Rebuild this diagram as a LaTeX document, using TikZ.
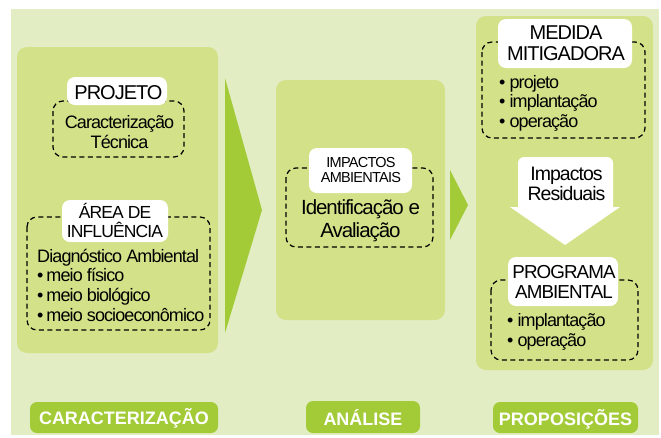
\documentclass[tikz,border=0pt]{standalone}
\usepackage{fontspec}
\setmainfont{Liberation Sans}[LetterSpace=-5]
\newfontfamily\plainsans{Liberation Sans}
\definecolor{bgc}{HTML}{E3EDC4}
\definecolor{panelc}{HTML}{D3E188}
\definecolor{darkc}{HTML}{A3CB38}
\newcommand\fbody{\fontsize{18}{20}\selectfont}
\begin{document}
\begin{tikzpicture}[x=1pt,y=-1pt,
  panel/.style={fill=panelc, rounded corners=10pt},
  dbox/.style={draw=black, dash pattern=on 5pt off 3.5pt, line width=1.2pt, rounded corners=10pt},
  wlabel/.style={fill=white, rounded corners=8pt},
  glabel/.style={fill=darkc, rounded corners=7pt},
  gtext/.style={inner sep=0pt, anchor=base, text=white, font=\plainsans\fontsize{18}{20}\selectfont\bfseries},
  txt/.style={inner sep=0pt, anchor=base, font=\fbody},
  ltxt/.style={inner sep=0pt, anchor=base west, font=\fbody}]
\useasboundingbox (0,0) rectangle (661,437);
\fill[bgc] (11,9) rectangle (659,435);
% panels
\path[panel] (17,47) rectangle (218,353);
\path[panel] (276,80) rectangle (445,320);
\path[panel] (476,16) rectangle (653,370);
% big arrows
\fill[darkc] (225,78) -- (262,210) -- (225,333) -- cycle;
\fill[darkc] (450,170) -- (468,205) -- (450,240) -- cycle;
% --- left column
\draw[dbox] (53,101) rectangle (184,157);
\path[wlabel] (67,77) rectangle (167,105);
\node[txt, font=\fontsize{20}{20}\selectfont] (proj) at (118.5,99) {PROJETO};
\node[txt] (car1) at (119.5,128) {Caracterização};
\node[txt] (car2) at (119.5,148) {Técnica};
\draw[dbox] (27,217) rectangle (210,330);
\path[wlabel] (62,200) rectangle (168,242);
\node[txt, font=\fontsize{17.5}{20}\selectfont] (area1) at (115,218) {ÁREA DE};
\node[txt, font=\fontsize{17.5}{20}\selectfont] (area2) at (115,237) {INFLUÊNCIA};
\node[ltxt] (diag) at (37,262) {Diagnóstico Ambiental};
\node[ltxt] (mf) at (37,281) {\textbullet\,meio físico};
\node[ltxt] (mb) at (37,301) {\textbullet\,meio biológico};
\node[ltxt] (ms) at (37,321) {\textbullet\,meio socioeconômico};
% --- middle column
\draw[dbox] (286,168) rectangle (433,247);
\path[wlabel] (309,148) rectangle (412,193);
\node[txt, font=\fontsize{14.5}{15}\selectfont] (imp1) at (361,167) {IMPACTOS};
\node[txt, font=\fontsize{14.5}{15}\selectfont] (imp2) at (361,182) {AMBIENTAIS};
\node[txt, font=\fontsize{20.5}{22}\selectfont] (id1) at (360.5,214) {Identificação e};
\node[txt, font=\fontsize{20.5}{22}\selectfont] (id2) at (360.5,237) {Avaliação};
% --- right column
\draw[dbox] (482,42) rectangle (645,138);
\path[wlabel] (498,19) rectangle (632,68);
\node[txt, font=\fontsize{20}{20}\selectfont] (med1) at (566,39) {MEDIDA};
\node[txt, font=\fontsize{20}{20}\selectfont] (med2) at (566,60) {MITIGADORA};
\node[ltxt, font=\fontsize{18}{20}\selectfont] (b1) at (499,88) {\textbullet\ projeto};
\node[ltxt, font=\fontsize{18}{20}\selectfont] (b2) at (499,107) {\textbullet\ implantação};
\node[ltxt, font=\fontsize{18}{20}\selectfont] (b3) at (499,127) {\textbullet\ operação};
\fill[white] (565,245) -- (510,207) -- (518,207) -- (518,200) [rounded corners=6pt] -- (518,157) -- (613,157) -- (613,200) [sharp corners] -- (613,207) -- (620,207) -- cycle;
\node[txt, font=\fontsize{19.5}{20}\selectfont] (res1) at (566.5,180) {Impactos};
\node[txt, font=\fontsize{19.5}{20}\selectfont] (res2) at (566.5,200) {Residuais};
\draw[dbox] (491,280) rectangle (638,360);
\path[wlabel] (508,257) rectangle (618,306);
\node[txt, font=\fontsize{18.8}{20}\selectfont] (prog1) at (564,278) {PROGRAMA};
\node[txt, font=\fontsize{18.8}{20}\selectfont] (prog2) at (564,298) {AMBIENTAL};
\node[ltxt, font=\fontsize{18}{20}\selectfont] (p1) at (507,326) {\textbullet\ implantação};
\node[ltxt, font=\fontsize{18}{20}\selectfont] (p2) at (507,346) {\textbullet\ operação};
% --- bottom labels
\path[glabel] (30,402) rectangle (218,433);
\node[gtext] (lcar) at (124,424) {CARACTERIZAÇÃO};
\path[glabel] (306,401) rectangle (420,433);
\node[gtext] (lana) at (363,425) {ANÁLISE};
\path[glabel] (493,402) rectangle (638,433);
\node[gtext] (lpro) at (565.5,425) {PROPOSIÇÕES};
\end{tikzpicture}
\end{document}
